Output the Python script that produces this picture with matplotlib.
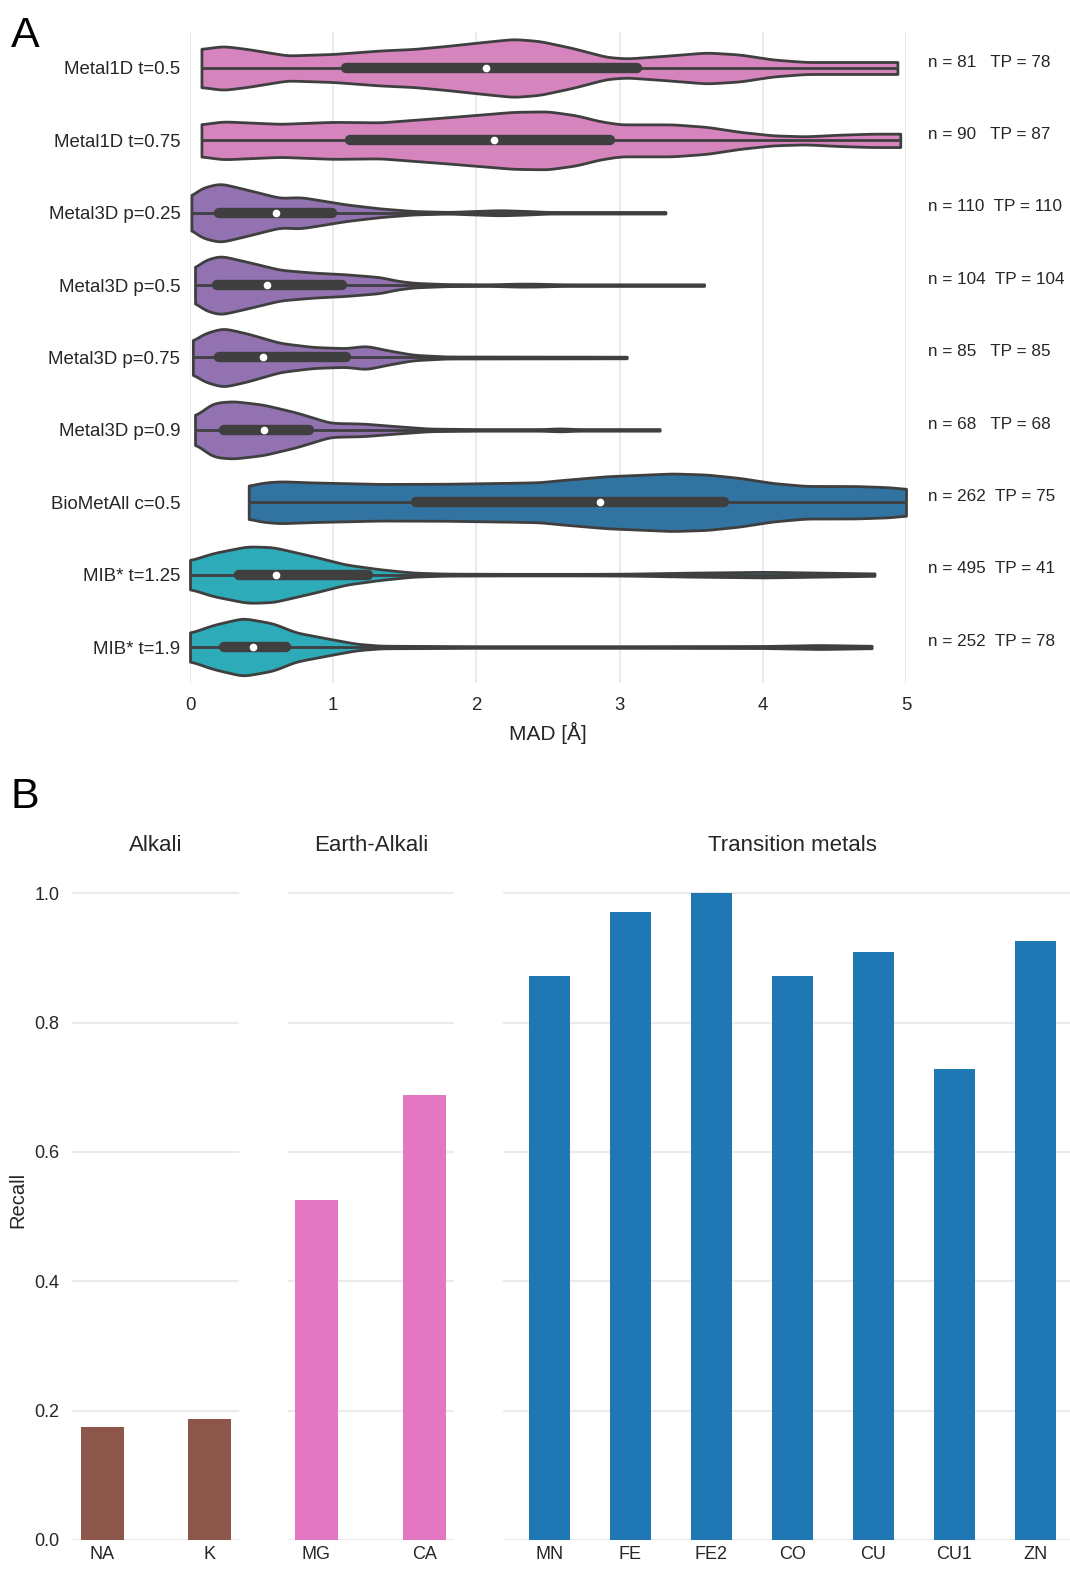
import numpy as np
import matplotlib
matplotlib.use("Agg")
import matplotlib.pyplot as plt
import matplotlib.transforms as mtrans
import seaborn as sns

plt.rcParams['font.family'] = ['Liberation Sans', 'DejaVu Sans']

# ---------------- DATA: panel A (violin profiles) ----------------
methods = ["Metal1D t=0.5", "Metal1D t=0.75", "Metal3D p=0.25", "Metal3D p=0.5",
           "Metal3D p=0.75", "Metal3D p=0.9", "BioMetAll c=0.5", "MIB* t=1.25", "MIB* t=1.9"]
n_vals = [81, 90, 110, 104, 85, 68, 262, 495, 252]
tp_vals = [78, 87, 110, 104, 85, 68, 75, 41, 78]

# MAD grid positions and relative density (half-width) of each violin outline
mad_m1d_05 = [0.08, 0.23, 0.40, 0.68, 1.00, 1.33, 1.56, 1.79, 2.05, 2.26, 2.44, 2.67, 2.91, 3.05, 3.30, 3.61, 3.84, 4.07, 4.30, 4.60, 4.94]
den_m1d_05 = [19, 22, 19, 12.5, 14, 17.5, 19, 22, 26, 29, 27, 20, 11, 9.5, 12, 15.5, 13.5, 8.5, 6, 6, 6]
mad_m1d_075 = [0.08, 0.23, 0.63, 1.00, 1.33, 1.79, 2.26, 2.50, 2.70, 2.85, 3.00, 3.37, 3.61, 3.84, 4.07, 4.30, 4.54, 4.77, 4.96]
den_m1d_075 = [16, 19, 16.5, 18.5, 18, 23, 28.5, 29, 25, 19.5, 16, 16, 13.5, 8.5, 5, 4, 5.7, 6.7, 6.7]
mad_m3d_025 = [0.01, 0.07, 0.21, 0.40, 0.63, 0.77, 0.91, 1.09, 1.33, 1.56, 1.81, 2.00, 2.16, 2.35, 2.50, 3.00, 3.32]
den_m3d_025 = [16, 24.5, 29.5, 23, 14.7, 15.7, 12.5, 8.3, 4.3, 1.7, 0.8, 1.8, 2.6, 1.8, 0.8, 0.8, 0.8]
mad_m3d_05 = [0.035, 0.09, 0.21, 0.40, 0.63, 0.86, 1.09, 1.33, 1.44, 1.56, 1.79, 2.10, 2.30, 2.40, 2.60, 3.59]
den_m3d_05 = [16.5, 24.5, 29.5, 23.3, 15.3, 12.5, 10.8, 8, 4.5, 2.3, 1, 0.8, 1.5, 1.5, 0.8, 0.8]
mad_m3d_075 = [0.02, 0.09, 0.23, 0.40, 0.63, 0.86, 1.09, 1.23, 1.37, 1.44, 1.56, 1.79, 3.05]
den_m3d_075 = [16, 23.7, 29.5, 24, 14.5, 10.5, 9.3, 11.8, 7.5, 5.7, 2.7, 1, 0.8]
mad_m3d_09 = [0.035, 0.16, 0.30, 0.51, 0.74, 0.98, 1.21, 1.44, 1.67, 2.00, 2.47, 2.58, 2.70, 3.28]
den_m3d_09 = [13.7, 27, 28.8, 25.3, 17.5, 7, 6.3, 3.7, 1.3, 0.8, 0.8, 1.6, 0.8, 0.8]
mad_bio = [0.41, 0.50, 0.63, 0.86, 1.33, 1.79, 2.26, 2.44, 2.58, 2.91, 3.37, 3.61, 3.84, 4.07, 4.30, 4.65, 4.89, 5.00]
den_bio = [16.3, 19.5, 21, 19.8, 18.3, 18.5, 19.5, 20, 22, 26, 28.8, 27.7, 24.3, 19.2, 16.3, 16.2, 15, 13.3]
mad_mib_125 = [0.00, 0.16, 0.40, 0.58, 0.86, 1.09, 1.33, 1.56, 1.79, 2.20, 2.80, 3.07, 3.50, 4.02, 4.50, 4.78]
den_mib_125 = [14.2, 21.5, 28.3, 27.5, 18.3, 10, 5.3, 2, 1, 0.8, 0.8, 1, 2, 2.8, 1.8, 1.2]
mad_mib_19 = [0.00, 0.16, 0.37, 0.58, 0.74, 0.98, 1.16, 1.33, 2.00, 3.00, 4.00, 4.40, 4.76]
den_mib_19 = [14, 22, 29, 23.7, 14.5, 8, 3.3, 1.3, 0.8, 0.8, 1, 2, 1.2]

q1_vals = [1.09, 1.12, 0.20, 0.19, 0.20, 0.24, 1.58, 0.34, 0.24]
median_vals = [2.07, 2.12, 0.60, 0.54, 0.51, 0.52, 2.86, 0.60, 0.44]
q3_vals = [3.12, 2.93, 0.99, 1.06, 1.09, 0.83, 3.73, 1.24, 0.67]

mad_ticks = [0, 1, 2, 3, 4, 5]

# ---------------- DATA: panel B ----------------
alkali_labels = ["NA", "K"]
alkali_recall = [0.174, 0.187]
earth_labels = ["MG", "CA"]
earth_recall = [0.526, 0.688]
trans_labels = ["MN", "FE", "FE2", "CO", "CU", "CU1", "ZN"]
trans_recall = [0.872, 0.971, 1.0, 0.872, 0.909, 0.728, 0.926]
recall_ticks = [0.0, 0.2, 0.4, 0.6, 0.8, 1.0]

# ---------------- styling ----------------
W, H = 1070, 1569
fig = plt.figure(figsize=(W / 100, H / 100), dpi=100)

def rect(l, t, r, b):
    return [l / W, 1 - b / H, (r - l) / W, (b - t) / H]

TXT = '#262626'
EDGE = '#3f3f3f'
GRID = '#ebebeb'

profiles = [(mad_m1d_05, den_m1d_05), (mad_m1d_075, den_m1d_075),
            (mad_m3d_025, den_m3d_025), (mad_m3d_05, den_m3d_05),
            (mad_m3d_075, den_m3d_075), (mad_m3d_09, den_m3d_09),
            (mad_bio, den_bio), (mad_mib_125, den_mib_125), (mad_mib_19, den_mib_19)]
base_cols = ['#e377c2', '#e377c2', '#9467bd', '#9467bd', '#9467bd', '#9467bd',
             '#1f77b4', '#17becf', '#17becf']
vcols = [sns.desaturate(c, 0.75) for c in base_cols]

def smooth(mad, den, n=900, sigma=0.035):
    xs = np.linspace(mad[0], mad[-1], n)
    ys = np.interp(xs, mad, den)
    dx = xs[1] - xs[0]
    k = max(1, int(3 * sigma / dx))
    ker = np.exp(-0.5 * (np.arange(-k, k + 1) * dx / sigma) ** 2)
    ker /= ker.sum()
    ys = np.convolve(np.pad(ys, k, mode='edge'), ker, mode='valid')
    return xs, ys

# ---------------- Panel A ----------------
axA = fig.add_axes(rect(190, 31.8, 906, 683.2))
DSCALE = 1 / 72.375  # density units -> category-row units
for i, (mad, den) in enumerate(profiles):
    xs, ys = smooth(mad, den)
    hw = ys * DSCALE
    axA.fill_between(xs, i - hw, i + hw, facecolor=vcols[i], edgecolor=EDGE,
                     linewidth=2.0, zorder=2, clip_on=False)
    axA.plot([mad[0], mad[-1]], [i, i], color=EDGE, lw=2.0, zorder=3,
             solid_capstyle='butt', clip_on=False)
    axA.plot([q1_vals[i], q3_vals[i]], [i, i], color=EDGE, lw=7.5, zorder=4,
             solid_capstyle='round')
    axA.plot([median_vals[i]], [i], 'o', color='white', ms=4.5, mec='white', zorder=5)

axA.set_xlim(0, 5)
axA.set_ylim(len(methods) - 0.5, -0.5)
axA.set_xticks(mad_ticks)
axA.set_xticklabels([str(t) for t in mad_ticks])
axA.set_yticks(range(len(methods)))
axA.set_yticklabels(methods)
axA.tick_params(axis='both', length=0, labelsize=13.4, labelcolor=TXT)
axA.tick_params(axis='x', pad=10)
axA.tick_params(axis='y', pad=7)
axA.grid(axis='x', color=GRID, lw=1.5, zorder=0)
axA.set_axisbelow(True)
for s in axA.spines.values():
    s.set_visible(False)
axA.set_xlabel("MAD [Å]", fontsize=15, color=TXT, labelpad=6)

trA = mtrans.blended_transform_factory(axA.transAxes, axA.transData)
for i in range(len(methods)):
    axA.text((928 - 190) / 716, i - 0.08, f"n = {n_vals[i]:<3}  TP = {tp_vals[i]}",
             transform=trA, fontsize=12.3, color=TXT, va='center', ha='left')

# ---------------- Panel B ----------------
groups = [
    ("Alkali", alkali_labels, alkali_recall, '#8c564b', 102.4, 107.1, 71.7, 238.8, 0.408),
    ("Earth-Alkali", earth_labels, earth_recall, '#e377c2', 316.3, 108.5, 288.0, 453.8, 0.396),
    ("Transition metals", trans_labels, trans_recall, '#1f77b4', 549.3, 81.0, 502.9, 1082.0, 0.506),
]
TOPB, BOTB = 861, 1540
for gi, (title, labels, vals, col, c0, ppu, lpx, rpx, bw) in enumerate(groups):
    ax = fig.add_axes(rect(lpx, TOPB, rpx, BOTB))
    xs = np.arange(len(labels))
    ax.bar(xs, vals, width=bw, color=col, zorder=2)
    ax.set_xlim((lpx - c0) / ppu, (rpx - c0) / ppu)
    ax.set_ylim(0, 1.05)
    ax.set_yticks(recall_ticks)
    ax.set_xticks(xs)
    ax.set_xticklabels(labels)
    ax.grid(axis='y', color=GRID, lw=1.5, zorder=0)
    ax.set_axisbelow(True)
    for s in ax.spines.values():
        s.set_visible(False)
    ax.tick_params(axis='both', length=0, labelsize=13, labelcolor=TXT)
    ax.tick_params(axis='x', pad=4)
    ax.tick_params(axis='y', pad=9)
    if gi == 0:
        ax.set_yticklabels([f"{t:.1f}" for t in recall_ticks])
    else:
        ax.set_yticklabels([])
    ax.text(0.5, 1 + (861 - 845) / (BOTB - TOPB), title, transform=ax.transAxes,
            ha='center', va='center', fontsize=16, color=TXT)

fig.text(18 / W, 1 - 1200 / H, "Recall", rotation=90, ha='center', va='center',
         fontsize=14.5, color=TXT)

fig.text(11 / W, 1 - 47 / H, "A", fontsize=31, color='black', ha='left', va='baseline')
fig.text(11 / W, 1 - 808 / H, "B", fontsize=31, color='black', ha='left', va='baseline')

fig.savefig("out.png", dpi=100)
